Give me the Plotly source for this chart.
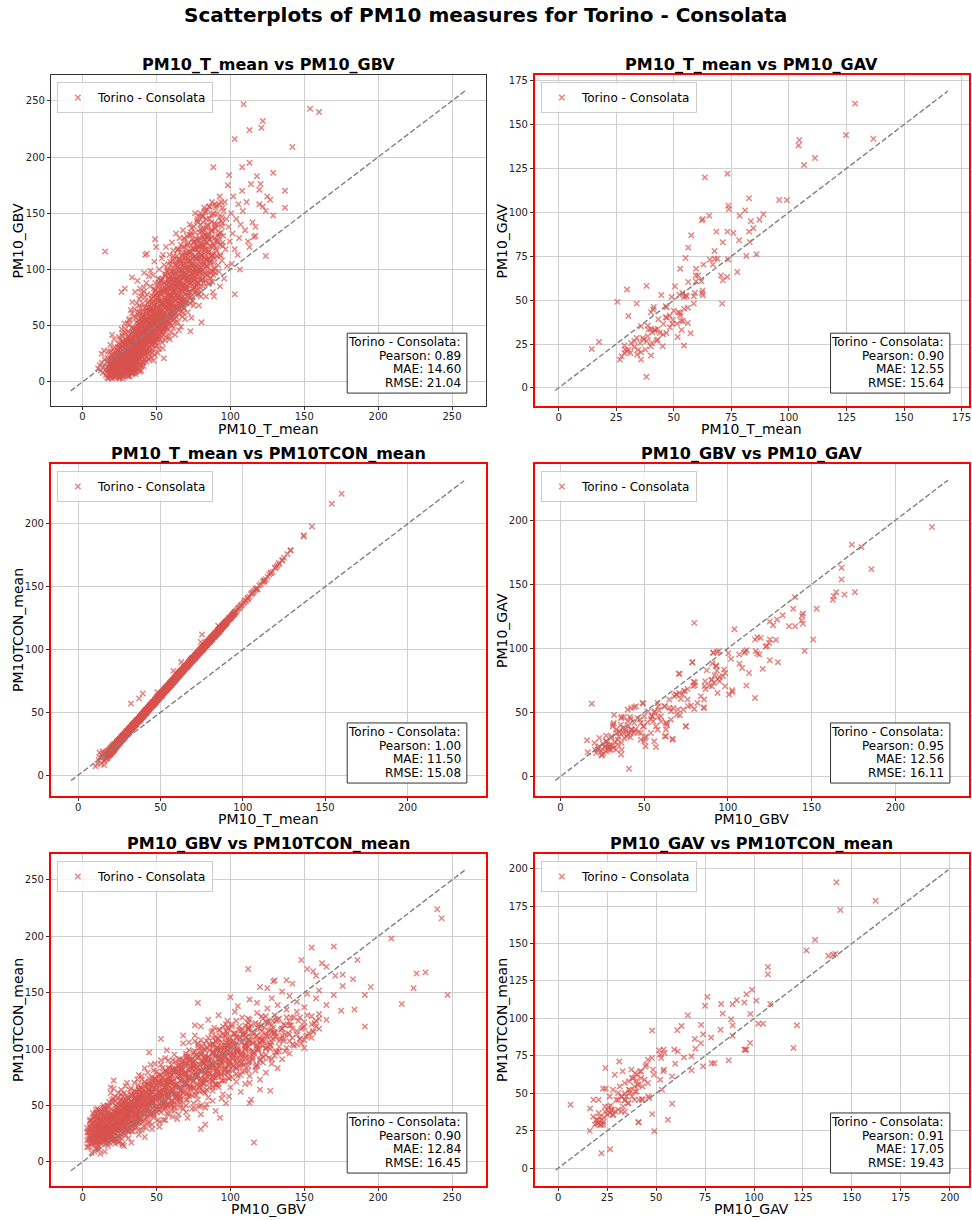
import plotly.graph_objects as go

W, H = 972, 1220
FONT = "DejaVu Sans"
MARKER_COLOR = "rgba(217,83,79,0.7)"
STATION = "Torino - Consolata"

# ---------------- shared daily table (PM10_T_mean, PM10_GBV, PM10TCON_mean) ----------------
T_mean = [
    10.5, 11.7, 12.4, 13.1, 13.8, 14.2, 14.9, 15.3, 15.6, 12.9, 14.5, 15.8,
    16.2, 16.5, 16.8, 17.1, 17.3, 17.6, 17.9, 18.1, 18.3, 18.6, 18.8, 19.0, 19.2, 19.5, 19.7, 19.9, 20.1, 20.3, 20.5, 20.7, 20.9, 21.1, 21.3, 21.5, 21.7, 21.9, 22.1, 22.3, 22.5, 22.7,
    16.9, 17.7, 18.4, 19.3, 20.0, 20.6, 21.4, 22.0, 22.8, 18.9, 19.6, 21.0, 21.8, 17.4, 20.2,
    23.1, 23.3, 23.5, 23.7, 23.9, 24.1, 24.3, 24.5, 24.7, 24.9, 25.1, 25.3, 25.5, 25.7, 25.9, 26.1, 26.3, 26.5, 26.7, 26.9,
    27.1, 27.3, 27.5, 27.7, 27.9, 28.1, 28.3, 28.5, 28.7, 28.9, 29.1, 29.3, 29.5, 29.7, 29.9,
    23.2, 23.8, 24.2, 24.8, 25.2, 25.6, 26.0, 26.4, 26.8, 27.2, 27.6, 28.0, 28.4, 28.8, 29.2, 29.6,
    23.4, 24.0, 24.6, 25.4, 25.8, 26.2, 26.6, 27.0, 27.4, 27.8, 28.2, 28.6, 29.0, 29.4, 29.8,
    24.4, 25.0, 26.9, 28.3, 26.3, 28.6,
    30.1, 30.3, 30.5, 30.7, 30.9, 31.1, 31.3, 31.5, 31.7, 31.9, 32.1, 32.3, 32.5, 32.7, 32.9, 33.1, 33.3, 33.5, 33.7, 33.9,
    34.1, 34.3, 34.5, 34.7, 34.9, 35.1, 35.3, 35.5, 35.7, 35.9, 36.1, 36.3,
    30.2, 30.6, 31.0, 31.4, 31.8, 32.2, 32.6, 33.0, 33.4, 33.8, 34.2, 34.6, 35.0, 35.4, 35.8, 36.2,
    30.4, 30.8, 31.2, 31.6, 32.0, 32.4, 32.8, 33.2, 33.6, 34.0, 34.4, 34.8, 35.2, 35.6, 36.0, 36.4,
    31.0, 32.0, 33.0, 34.0, 35.0, 36.0, 33.5, 31.5, 34.5, 35.5, 32.5,
    36.6, 36.8, 37.0, 37.2, 37.4, 37.6, 37.8, 38.0, 38.2, 38.4, 38.6, 38.8, 39.0, 39.2, 39.4, 39.6, 39.8, 40.0, 40.2, 40.4,
    40.6, 40.8, 41.0, 41.2, 41.4, 41.6, 41.8, 42.0, 42.2, 42.4, 42.6, 42.8,
    36.7, 37.1, 37.5, 37.9, 38.3, 38.7, 39.1, 39.5, 39.9, 40.3, 40.7, 41.1, 41.5, 41.9, 42.3, 42.7,
    36.9, 37.3, 37.7, 38.1, 38.5, 38.9, 39.3, 39.7, 40.1, 40.5, 40.9, 41.3, 41.7, 42.1, 42.5, 42.9,
    38.0, 39.0, 40.0, 41.0, 42.0, 43.0, 37.0, 39.5, 41.5, 40.5, 38.5,
    43.1, 43.3, 43.5, 43.7, 43.9, 44.1, 44.3, 44.5, 44.7, 44.9, 45.1, 45.3, 45.5, 45.7, 45.9, 46.1, 46.3, 46.5, 46.7, 46.9,
    47.1, 47.3, 47.5, 47.7, 47.9, 48.1, 48.3, 48.5, 48.7, 48.9, 49.1, 49.3, 49.5, 49.7, 49.9,
    43.2, 43.6, 44.0, 44.4, 44.8, 45.2, 45.6, 46.0, 46.4, 46.8, 47.2, 47.6, 48.0, 48.4, 48.8, 49.2, 49.6,
    43.8, 44.6, 45.4, 46.2, 47.0, 47.8, 48.6, 49.4, 44.2, 45.8, 47.4, 49.0, 46.6, 48.2, 45.0, 43.4, 49.8, 47.7,
    50.2, 50.4, 50.6, 50.8, 51.0, 51.2, 51.4, 51.6, 51.8, 52.0, 52.2, 52.4, 52.6, 52.8, 53.0, 53.2, 53.4, 53.6, 53.8, 54.0,
    54.2, 54.4, 54.6, 54.8, 55.0, 55.2, 55.4, 55.6, 55.8, 56.0, 56.2, 56.4, 56.6, 56.8,
    50.3, 50.9, 51.5, 52.1, 52.7, 53.3, 53.9, 54.5, 55.1, 55.7, 56.3, 56.9,
    50.7, 51.9, 53.1, 54.3, 55.5, 56.5, 51.3, 52.5, 53.7, 54.9, 56.1, 50.0, 52.9, 55.9,
    57.1, 57.3, 57.5, 57.7, 57.9, 58.1, 58.3, 58.5, 58.7, 58.9, 59.1, 59.3, 59.5, 59.7, 59.9, 60.1, 60.3, 60.5, 60.7, 60.9,
    61.1, 61.3, 61.5, 61.7, 61.9, 62.1, 62.3, 62.5, 62.7, 62.9, 63.1, 63.3,
    57.4, 57.8, 58.2, 58.6, 59.0, 59.4, 59.8, 60.2, 60.6, 61.0, 61.4, 61.8, 62.2, 62.6, 63.0, 63.4, 58.8, 60.4,
    63.6, 63.8, 64.0, 64.2, 64.4, 64.6, 64.8, 65.0, 65.2, 65.4, 65.6, 65.8, 66.0, 66.2, 66.4, 66.6, 66.8, 67.0, 67.2, 67.4,
    67.6, 67.8, 68.0, 68.2, 68.4, 68.6, 68.8, 69.0, 69.2, 69.4, 69.6, 69.8,
    64.1, 64.9, 65.7, 66.5, 67.3, 68.1, 68.9, 69.7, 65.3, 67.9,
    70.2, 70.4, 70.6, 70.8, 71.0, 71.3, 71.6, 71.9, 72.2, 72.5, 72.8, 73.1, 73.4, 73.7, 74.0, 74.3, 74.6, 74.9, 75.2, 75.5,
    75.8, 76.1, 76.4, 76.7, 73.0, 70.5, 71.5, 72.0, 72.7, 73.5, 74.5, 75.0, 75.9, 76.5, 76.9,
    77.2, 77.5, 77.8, 78.1, 78.4, 78.7, 79.0, 79.3, 79.6, 79.9, 80.2, 80.5, 80.8, 81.1, 81.4, 81.7, 82.0, 82.3, 82.6, 82.9,
    83.2, 83.5, 83.8, 78.0, 79.5, 80.0, 81.0, 82.5, 83.0, 80.7,
    84.2, 84.6, 85.0, 85.4, 85.8, 86.2, 86.6, 87.0, 87.4, 87.8, 88.2, 88.5, 88.9, 89.3, 89.7, 90.1, 89.0, 84.9, 86.0, 87.6, 88.6, 90.3,
    90.8, 91.3, 91.8, 92.3, 92.8, 93.3, 93.8, 94.3, 94.8, 95.3, 95.8, 96.3, 96.8, 97.3, 97.8, 98.3, 98.8, 99.2, 99.6, 93.0,
    109, 154, 160, 122, 121, 113, 103, 142, 108, 113, 129, 118, 120.5, 114, 137, 108, 119.6, 125, 127, 119.6,
    122, 124, 137, 129, 115, 117, 117, 116, 113, 124, 103, 105, 100.5, 101.5, 102, 103, 104, 105.5, 106, 107,
    108.5, 110, 111, 112, 101, 106.5,
    18.05, 18.25, 18.45, 18.65, 18.85, 19.05, 19.25, 19.45, 19.65, 19.85, 20.05, 20.25, 20.45, 20.65, 20.85, 21.05, 21.25, 21.45, 21.65, 21.85,
    22.05, 22.25, 22.45, 22.65, 22.85, 23.05, 23.25, 23.45, 23.65, 23.85, 24.05, 24.25, 24.45, 24.65, 24.85, 25.05, 25.25, 25.45, 25.65, 25.85,
    26.05, 26.25, 26.45, 26.65, 26.85, 27.05, 27.25, 27.45, 27.65, 27.85, 28.05, 28.25, 28.45, 28.65, 28.85, 29.05, 29.25, 29.45, 29.65, 29.85,
    30.05, 30.25, 30.45, 30.65, 30.85, 31.05, 31.25, 31.45, 31.65, 31.85, 32.05, 32.25, 32.45, 32.65, 32.85, 33.05, 33.25, 33.45, 33.65, 33.85,
    34.05, 34.25, 34.45, 34.65, 34.85, 35.05, 35.25, 35.45, 35.65, 35.85, 36.05, 36.25, 36.45, 36.65, 36.85, 37.05, 37.25, 37.45, 37.65, 37.85,
    38.05, 38.25, 38.45, 38.65, 38.85, 39.05, 39.25, 39.45, 39.65, 39.85, 40.05, 40.25, 40.45, 40.65, 40.85, 41.05, 41.25, 41.45, 41.65, 41.85,
    42.05, 42.25, 42.45, 42.65, 42.85, 43.05, 43.25, 43.45, 43.65, 43.85, 44.05, 44.25, 44.45, 44.65, 44.85, 45.05, 45.25, 45.45, 45.65, 45.85,
    46.05, 46.25, 46.45, 46.65, 46.85, 47.05, 47.25, 47.45, 47.65, 47.85, 48.05, 48.25, 48.45, 48.65, 48.85, 49.05, 49.25, 49.45, 49.65, 49.85,
    50.05, 50.25, 50.45, 50.65, 50.85, 51.05, 51.25, 51.45, 51.65, 51.85, 52.05, 52.25, 52.45, 52.65, 52.85, 53.05, 53.25, 53.45, 53.65, 53.85,
    54.05, 54.25, 54.45, 54.65, 54.85, 55.05, 55.25, 55.45, 55.65, 55.85, 56.05, 56.25, 56.45, 56.65, 56.85, 57.05, 57.25, 57.45, 57.65, 57.85,
    58.05, 58.25, 58.45, 58.65, 58.85, 59.05, 59.25, 59.45, 59.65, 59.85, 60.05, 60.25, 60.45, 60.65, 60.85, 61.05, 61.25, 61.45, 61.65, 61.85,
    62.05, 62.25, 62.45, 62.65, 62.85, 63.05, 63.25, 63.45, 63.65, 63.85, 64.05, 64.25, 64.45, 64.65, 64.85, 65.05, 65.25, 65.45, 65.65, 65.85,
    66.05, 66.25, 66.45, 66.65, 66.85, 67.05, 67.25, 67.45, 67.65, 67.85, 68.05, 68.25, 68.45, 68.65, 68.85, 69.05, 69.25, 69.45, 69.65, 69.85,
    70.1, 70.35, 70.6, 70.85, 71.1, 71.35, 71.6, 71.85, 72.1, 72.35, 72.6, 72.85, 73.1, 73.35, 73.6, 73.85, 74.1, 74.35, 74.6, 74.85,
    75.1, 75.35, 75.6, 75.85, 76.1, 76.35, 76.6, 76.85, 77.1, 77.35, 77.6, 77.85, 78.1, 78.35, 78.6, 78.85, 79.1, 79.35, 79.6, 79.85,
    80.15, 80.45, 80.75, 81.05, 81.35, 81.65, 81.95, 82.25, 82.55, 82.85, 83.15, 83.45, 83.75, 84.05, 84.35, 84.65, 84.95, 85.25, 85.55, 85.85,
    86.3, 86.8, 87.3, 87.8, 88.3, 88.8, 89.3, 89.8, 90.3, 90.8, 91.3, 91.8, 92.3, 92.8, 93.3, 93.8, 94.3, 94.8, 86.5, 88.0,
    25.15, 26.35, 27.55, 28.75, 29.95, 31.15, 32.35, 33.55, 34.75, 35.95, 37.15, 38.35, 39.55, 40.75, 24.55, 27.05, 29.45, 31.85, 34.25, 36.65,
    20.15, 20.4, 20.65, 20.9, 21.15, 21.4, 21.65, 21.9, 22.15, 22.4, 22.65, 22.9, 23.15, 23.4, 23.65, 23.9, 24.15, 24.4, 24.65, 24.9,
    25.15, 25.4, 25.65, 25.9, 26.15, 26.4, 26.65, 26.9, 27.15, 27.4, 27.65, 27.9, 28.15, 28.4, 28.65, 28.9, 29.15, 29.4, 29.65, 29.9,
    30.15, 30.4, 30.65, 30.9, 31.15, 31.4, 31.65, 31.9, 32.15, 32.4, 32.65, 32.9, 33.15, 33.4, 33.65, 33.9, 34.15, 34.4, 34.65, 34.9,
    35.15, 35.4, 35.65, 35.9, 36.15, 36.4, 36.65, 36.9, 37.15, 37.4, 37.65, 37.9, 38.15, 38.4, 38.65, 38.9, 39.15, 39.4, 39.65, 39.9,
    40.15, 40.4, 40.65, 40.9, 41.15, 41.4, 41.65, 41.9, 42.15, 42.4, 42.65, 42.9, 43.15, 43.4, 43.65, 43.9, 44.15, 44.4, 44.65, 44.9,
    45.15, 45.4, 45.65, 45.9, 46.15, 46.4, 46.65, 46.9, 47.15, 47.4, 47.65, 47.9, 48.15, 48.4, 48.65, 48.9, 49.15, 49.4, 49.65, 49.9,
    50.15, 50.4, 50.65, 50.9, 51.15, 51.4, 51.65, 51.9, 52.15, 52.4, 52.65, 52.9, 53.15, 53.4, 53.65, 53.9, 54.15, 54.4, 54.65, 54.9,
    55.15, 55.4, 55.65, 55.9, 56.15, 56.4, 56.65, 56.9, 57.15, 57.4, 57.65, 57.9, 58.15, 58.4, 58.65, 58.9, 59.15, 59.4, 59.65, 59.9,
    60.15, 60.4, 60.65, 60.9, 61.15, 61.4, 61.65, 61.9, 62.15, 62.4, 62.65, 62.9, 63.15, 63.4, 63.65, 63.9, 64.15, 64.4, 64.65, 64.9,
    65.15, 65.4, 65.65, 65.9, 66.15, 66.4, 66.65, 66.9, 67.15, 67.4, 67.65, 67.9, 68.15, 68.4, 68.65, 68.9, 69.15, 69.4, 69.65, 69.9,
    70.2, 70.5, 70.8, 71.1, 71.4, 71.7, 72.0, 72.3, 72.6, 72.9, 73.2, 73.5, 73.8, 74.1, 74.4, 74.7, 75.0, 75.3, 75.6, 75.9,
    76.2, 76.5, 76.8, 77.1, 77.4, 77.7, 78.0, 78.3, 78.6, 78.9, 79.2, 79.5, 79.8, 80.1, 80.4, 80.7, 81.0, 81.3, 81.6, 81.9,
    82.3, 82.7, 83.1, 83.5, 83.9, 84.3, 84.7, 85.1, 85.5, 85.9, 86.3, 86.7, 87.1, 87.5, 87.9, 88.3, 88.7, 89.1, 89.5, 89.9,
    70.3, 70.7, 71.2, 71.8, 72.3, 72.9, 73.4, 73.9, 74.4, 74.9, 75.4, 75.9, 76.3, 76.8, 77.3, 77.8, 71.0, 73.0, 75.0, 77.0,
    78.3, 78.8, 79.3, 79.8, 80.3, 80.8, 81.3, 81.8, 82.3, 82.8, 83.3, 83.8, 84.3, 84.8, 85.3, 85.8, 79.0, 81.0, 83.0, 85.0,
    86.4, 87.0, 87.6, 88.2, 88.8, 89.4, 90.0, 90.6, 91.2, 91.8, 92.4, 93.0, 93.6, 94.2, 94.8, 95.4, 87.3, 89.7, 92.1, 94.5,
    55.3, 56.1, 56.9, 57.7, 58.5, 59.3, 60.1, 60.9, 61.7, 62.5, 63.3, 64.1, 64.9, 65.7, 66.5, 67.3, 68.1, 68.9, 69.7, 58.0,
    40.35, 41.15, 41.95, 42.75, 43.55, 44.35, 45.15, 45.95, 46.75, 47.55, 48.35, 49.15, 49.95, 50.75, 51.55, 52.35, 53.15, 53.95, 54.75, 47.0,
    25.6, 27.2, 28.8, 30.4, 32.0, 33.6, 35.2, 36.8, 38.4, 40.0, 41.6, 43.2, 44.8, 29.6, 33.2, 36.2, 39.2, 42.2, 31.2, 37.6,
]
GBV = [
    12, 15, 10, 17, 8, 13, 20, 116, 11, 25, 28, 6,
    9, 18, 4, 13, 27, 7, 15, 22, 10, 5, 33, 17, 12, 8, 24, 14, 3, 19, 11, 29, 7, 16, 38, 13, 21, 9, 5, 26, 15, 11,
    21, 11, 16, 6, 42, 23, 4, 18, 8, 27, 20, 10, 31, 3, 14,
    12, 24, 6, 17, 31, 9, 20, 14, 40, 4, 26, 11, 18, 33, 7, 22, 15, 47, 10, 28,
    19, 5, 36, 13, 24, 17, 9, 30, 21, 44, 12, 26, 16, 7, 34,
    19, 8, 28, 16, 3, 23, 13, 36, 18, 9, 27, 14, 52, 11, 20, 38,
    14, 22, 11, 30, 15, 8, 25, 41, 16, 6, 22, 13, 29, 10, 24,
    34, 19, 12, 33, 80, 83,
    18, 9, 27, 40, 14, 22, 6, 33, 19, 51, 12, 25, 16, 37, 8, 29, 21, 93, 14, 44,
    24, 10, 31, 18, 58, 27, 13, 36, 21, 7, 42, 30,
    31, 12, 45, 16, 28, 20, 64, 11, 34, 26, 17, 48, 20, 9, 31, 15,
    23, 5, 37, 10, 24, 42, 19, 15, 71, 30, 22, 12, 39, 25, 17, 53,
    26, 14, 39, 8, 46, 23, 20, 55, 35, 80, 31,
    28, 45, 19, 90, 34, 12, 52, 25, 39, 16, 62, 30, 44, 21, 35, 10, 57, 27, 48, 18,
    38, 70, 31, 14, 43, 24, 55, 35, 20, 113, 47, 29,
    37, 24, 60, 33, 47, 9, 28, 76, 41, 23, 54, 17, 36, 66, 27, 41,
    15, 50, 42, 18, 33, 83, 50, 31, 15, 62, 45, 26, 97, 52, 37, 22,
    55, 38, 33, 58, 44, 18, 31, 24, 80, 29, 68,
    33, 56, 114, 25, 44, 70, 38, 20, 51, 31, 63, 42, 27, 85, 48, 36, 58, 22, 45, 74,
    33, 53, 40, 95, 28, 61, 47, 36, 68, 24, 127, 52, 41, 79, 32,
    47, 29, 60, 41, 26, 53, 37, 99, 50, 30, 64, 44, 19, 56, 38, 88, 47,
    78, 35, 47, 66, 26, 51, 107, 35, 55, 39, 72, 58, 41, 83, 21, 64, 120, 62,
    45, 66, 33, 84, 55, 40, 73, 60, 29, 100, 50, 68, 38, 79, 57, 44, 90, 63, 35, 71,
    52, 113, 42, 82, 21, 60, 48, 75, 37, 96, 56, 67, 45, 86,
    56, 26, 48, 62, 91, 70, 47, 61, 104, 53, 40, 72,
    75, 39, 82, 30, 66, 120, 92, 54, 110, 58, 79, 38, 44, 49,
    58, 83, 47, 99, 66, 74, 40, 89, 61, 113, 70, 52, 94, 78, 44, 86, 64, 124, 72, 55,
    101, 80, 48, 90, 68, 110, 59, 84, 42, 96, 73, 132,
    71, 54, 105, 76, 38, 84, 62, 98, 50, 77, 117, 63, 91, 53, 81, 106, 92, 69,
    88, 65, 102, 75, 53, 118, 84, 70, 95, 60, 128, 79, 108, 67, 90, 49, 99, 82, 72, 113,
    58, 93, 135, 76, 104, 66, 87, 120, 79, 56, 97, 70,
    92, 109, 87, 74, 100, 61, 94, 111, 46, 83,
    85, 104, 70, 122, 93, 62, 110, 80, 98, 140, 75, 115, 88, 57, 105, 127, 83, 96, 68, 118,
    101, 150, 86, 110, 45, 130, 91, 116, 102, 133, 72, 90, 125, 97, 78,
    96, 120, 82, 142, 107, 68, 128, 99, 113, 150, 90, 53, 122, 104, 136, 85, 117, 155, 97, 130,
    110, 76, 145, 88, 133, 76, 147, 125, 93, 112,
    103, 140, 118, 88, 156, 127, 97, 148, 112, 135, 80, 191, 121, 158, 101, 140, 76, 130, 108, 160, 95, 125,
    112, 150, 131, 98, 165, 122, 143, 108, 155, 130, 92, 160, 118, 145, 103, 175, 138, 184, 125, 85,
    247, 243, 240, 232, 226, 224, 216, 209, 191, 195, 186, 183, 176, 176, 170, 170, 171, 165, 162, 158,
    156, 152, 155, 148, 142, 138, 130, 129, 120, 112, 78, 113, 150, 132, 165, 118, 145, 158, 128, 140,
    152, 135, 160, 125, 105, 100,
    6, 12, 9, 16, 4, 11, 19, 7, 14, 10, 22, 6, 13, 17, 8, 12, 25, 9, 15, 5,
    14, 8, 20, 11, 5, 17, 9, 13, 27, 7, 16, 10, 21, 12, 6, 18, 14, 29, 9, 23,
    15, 24, 10, 19, 32, 13, 21, 8, 17, 27, 11, 23, 16, 35, 20, 14, 30, 18, 9, 25,
    21, 15, 29, 11, 25, 34, 18, 22, 13, 30, 26, 17, 38, 21, 12, 28, 24, 16, 33, 19,
    27, 20, 36, 15, 31, 24, 42, 19, 29, 35, 22, 46, 27, 17, 33, 39, 25, 30, 21, 44,
    36, 28, 49, 23, 40, 32, 56, 27, 43, 35, 22, 51, 38, 30, 45, 60, 33, 41, 26, 48,
    40, 31, 55, 46, 28, 62, 37, 50, 43, 34, 58, 47, 39, 66, 30, 52, 44, 72, 36, 57,
    48, 39, 63, 54, 33, 70, 45, 57, 41, 76, 52, 36, 65, 48, 59, 43, 81, 55, 38, 67,
    55, 44, 71, 61, 38, 79, 50, 66, 47, 86, 58, 42, 74, 63, 52, 90, 45, 69, 57, 82,
    64, 51, 80, 70, 45, 88, 57, 75, 62, 94, 68, 49, 83, 72, 59, 99, 54, 77, 66, 90,
    72, 59, 88, 78, 53, 96, 65, 83, 70, 104, 76, 57, 91, 80, 67, 108, 62, 85, 74, 99,
    80, 67, 97, 86, 61, 104, 73, 91, 78, 112, 84, 65, 99, 88, 75, 118, 70, 93, 82, 107,
    88, 75, 105, 94, 69, 112, 81, 99, 86, 120, 92, 73, 107, 96, 83, 126, 78, 101, 90, 115,
    96, 83, 113, 102, 76, 121, 89, 107, 94, 131, 100, 80, 116, 105, 91, 137, 86, 110, 98, 124,
    105, 91, 124, 112, 84, 133, 98, 118, 103, 143, 110, 88, 127, 115, 100, 148, 94, 121, 108, 136,
    113, 99, 134, 121, 92, 142, 106, 127, 111, 151, 118, 96, 137, 124, 108, 153, 102, 130, 116, 145,
    121, 106, 142, 129, 98, 150, 114, 136, 119, 157, 126, 104, 146, 132, 112, 160, 138, 124, 92, 113,
    4, 7, 5, 9, 6, 8, 10, 7, 11, 9, 13, 11, 14, 17, 8, 3, 10, 5, 8, 12,
    10, 15, 7, 20, 12, 9, 17, 13, 24, 8, 15, 19, 11, 26, 14, 9, 21, 16, 12, 31,
    18, 12, 26, 21, 15, 30, 19, 24, 11, 28, 22, 17, 34, 25, 14, 29, 20, 37, 23, 16,
    26, 19, 33, 28, 22, 39, 25, 31, 17, 36, 29, 23, 43, 32, 20, 38, 27, 47, 30, 24,
    33, 25, 41, 36, 28, 48, 31, 39, 22, 45, 35, 27, 52, 38, 24, 44, 32, 56, 36, 29,
    40, 31, 50, 43, 34, 57, 37, 47, 28, 54, 42, 33, 61, 45, 30, 52, 39, 66, 44, 35,
    47, 38, 58, 51, 41, 66, 44, 55, 35, 63, 49, 40, 71, 53, 37, 61, 46, 77, 52, 42,
    54, 45, 67, 58, 48, 75, 51, 63, 42, 72, 56, 47, 80, 61, 44, 69, 53, 86, 59, 49,
    61, 52, 75, 66, 55, 83, 58, 71, 49, 80, 64, 54, 88, 69, 51, 77, 60, 94, 67, 57,
    69, 59, 83, 74, 62, 91, 65, 79, 56, 88, 72, 61, 96, 77, 58, 85, 67, 102, 75, 64,
    77, 66, 91, 82, 69, 99, 72, 87, 63, 96, 80, 68, 104, 85, 65, 93, 74, 110, 83, 71,
    85, 73, 100, 90, 77, 108, 80, 95, 70, 105, 88, 76, 113, 93, 72, 102, 82, 119, 91, 79,
    94, 81, 110, 99, 86, 118, 89, 104, 78, 115, 97, 84, 123, 102, 80, 112, 91, 129, 100, 88,
    104, 90, 121, 109, 95, 130, 98, 115, 87, 126, 107, 93, 135, 112, 89, 123, 101, 141, 110, 97,
    92, 115, 101, 124, 88, 108, 131, 97, 119, 104, 138, 93, 112, 127, 99, 145, 83, 96, 110, 122,
    102, 126, 111, 140, 97, 118, 147, 107, 131, 114, 152, 103, 124, 139, 110, 156, 92, 120, 135, 128,
    112, 134, 120, 149, 106, 128, 155, 117, 140, 124, 158, 113, 133, 147, 121, 152, 99, 137, 129, 141,
    88, 95, 82, 101, 91, 107, 86, 98, 112, 94, 104, 117, 99, 109, 122, 103, 115, 128, 108, 85,
    53, 60, 47, 66, 56, 71, 52, 63, 77, 58, 68, 82, 61, 73, 88, 65, 78, 92, 70, 33,
    38, 43, 47, 52, 56, 61, 65, 70, 74, 79, 84, 88, 94, 35, 48, 57, 66, 75, 41, 62,
]
TCON = [
    7, 9, 12, 14, 9, 16, 19, 17, 11, 18, 14, 8,
    12, 17, 13, 18, 15, 14, 19, 16, 15, 20, 17, 16, 21, 18, 17, 22, 19, 21, 18, 23, 20, 19, 24, 21, 20, 25, 22, 21, 24, 22,
    18, 14, 19, 17, 22, 19, 20, 24, 22, 16, 20, 23, 21, 13, 18,
    25, 23, 26, 24, 27, 25, 27, 25, 28, 26, 28, 27, 29, 27, 29, 28, 30, 29, 31, 29,
    31, 30, 32, 31, 30, 32, 31, 33, 32, 34, 33, 34, 33, 35, 34,
    23, 26, 25, 28, 26, 29, 28, 30, 29, 31, 30, 32, 31, 33, 32, 35,
    26, 24, 27, 28, 27, 30, 28, 31, 29, 32, 31, 33, 32, 34, 33,
    27, 26, 30, 31, 29, 33,
    35, 33, 36, 35, 37, 35, 37, 36, 38, 37, 38, 37, 39, 38, 40, 38, 40, 39, 41, 40,
    41, 40, 42, 41, 42, 41, 43, 42, 44, 43, 44, 43,
    34, 36, 35, 37, 36, 38, 38, 39, 39, 41, 40, 42, 41, 43, 42, 44,
    35, 36, 36, 37, 57, 38, 39, 40, 39, 41, 41, 42, 42, 43, 43, 44,
    36, 37, 39, 41, 42, 44, 40, 37, 41, 42, 38,
    44, 43, 61, 45, 46, 44, 46, 45, 47, 46, 48, 47, 48, 65, 49, 47, 49, 48, 50, 49,
    51, 50, 51, 50, 52, 51, 52, 51, 53, 52, 54, 53,
    43, 45, 46, 45, 47, 46, 48, 47, 50, 49, 50, 49, 52, 51, 53, 52,
    45, 44, 46, 45, 47, 48, 47, 49, 48, 50, 51, 50, 52, 51, 53, 54,
    47, 46, 49, 51, 52, 53, 45, 48, 50, 49, 47,
    54, 53, 55, 54, 56, 55, 56, 55, 57, 56, 57, 56, 58, 57, 58, 57, 59, 58, 60, 59,
    60, 59, 61, 60, 61, 60, 62, 61, 62, 61, 63, 62, 64, 63, 64,
    53, 55, 54, 56, 55, 57, 56, 58, 57, 59, 58, 61, 66, 62, 61, 63, 62,
    55, 56, 57, 58, 60, 61, 62, 63, 55, 58, 60, 62, 59, 61, 56, 54, 64, 60,
    64, 63, 65, 64, 66, 65, 66, 65, 67, 66, 68, 67, 68, 67, 69, 68, 69, 68, 70, 69,
    71, 70, 71, 70, 72, 71, 72, 71, 73, 72, 73, 72, 74, 73,
    65, 64, 66, 67, 68, 69, 70, 71, 71, 72, 73, 74,
    65, 66, 69, 70, 72, 73, 66, 68, 69, 71, 72, 64, 68, 73,
    74, 73, 75, 74, 76, 75, 76, 75, 77, 76, 78, 77, 78, 77, 79, 78, 80, 79, 80, 79,
    81, 80, 81, 80, 82, 81, 83, 82, 83, 82, 84, 83,
    75, 83, 76, 77, 77, 78, 79, 79, 80, 80, 81, 82, 82, 90, 83, 84, 77, 79,
    84, 83, 85, 84, 86, 85, 86, 85, 87, 86, 87, 86, 88, 87, 88, 87, 89, 88, 90, 89,
    90, 89, 91, 90, 92, 91, 92, 91, 93, 92, 93, 92,
    85, 86, 87, 88, 89, 90, 92, 93, 86, 90,
    93, 94, 94, 93, 95, 95, 96, 95, 97, 96, 97, 98, 98, 99, 99, 100, 99, 101, 112, 100,
    102, 101, 103, 102, 97, 94, 95, 96, 97, 98, 106, 100, 102, 103, 103,
    103, 104, 105, 104, 106, 105, 106, 107, 106, 108, 107, 109, 108, 110, 109, 110, 111, 110, 112, 111,
    113, 112, 113, 104, 107, 107, 109, 111, 112, 108,
    114, 113, 119, 116, 115, 117, 116, 118, 119, 118, 120, 120, 121, 120, 122, 121, 121, 115, 117, 118, 120, 123,
    123, 124, 125, 125, 126, 127, 128, 128, 129, 130, 130, 131, 132, 133, 133, 134, 135, 135, 136, 126,
    148, 216, 224, 168, 167, 154, 140, 198, 148, 155, 179, 162, 166, 156, 191, 148, 165, 173, 176, 165,
    169, 171, 190, 179, 158, 161, 161, 160, 155, 171, 141, 144, 137, 139, 139, 141, 142, 145, 145, 147,
    149, 151, 152, 154, 138, 146,
    16, 18, 17, 19, 16, 18, 19, 17, 20, 18, 20, 19, 21, 20, 19, 21, 22, 20, 22, 21,
    22, 23, 23, 24, 23, 25, 24, 25, 26, 25, 26, 26, 27, 26, 27, 28, 27, 28, 29, 28,
    28, 29, 29, 30, 30, 31, 30, 31, 32, 31, 32, 33, 32, 33, 33, 34, 33, 34, 35, 34,
    34, 35, 35, 36, 35, 36, 37, 36, 37, 38, 37, 38, 38, 39, 38, 39, 40, 39, 40, 40,
    40, 41, 40, 41, 42, 41, 42, 43, 42, 43, 44, 43, 44, 44, 45, 44, 45, 46, 45, 46,
    46, 47, 46, 47, 48, 47, 48, 49, 48, 49, 50, 49, 50, 50, 51, 50, 51, 52, 51, 52,
    52, 53, 52, 53, 54, 53, 54, 55, 54, 55, 56, 55, 56, 56, 57, 56, 57, 58, 57, 58,
    57, 58, 59, 58, 59, 60, 59, 60, 61, 60, 61, 62, 61, 62, 63, 62, 63, 63, 64, 63,
    63, 64, 65, 64, 65, 66, 65, 66, 67, 66, 67, 68, 67, 68, 69, 68, 69, 69, 70, 69,
    69, 70, 71, 70, 71, 72, 71, 72, 73, 72, 73, 74, 73, 74, 75, 74, 75, 75, 76, 75,
    75, 76, 77, 76, 77, 78, 77, 78, 79, 78, 79, 80, 79, 80, 81, 80, 81, 81, 82, 81,
    81, 82, 82, 83, 82, 83, 84, 83, 84, 85, 84, 85, 86, 85, 86, 86, 87, 86, 87, 87,
    87, 88, 87, 88, 89, 88, 89, 90, 89, 90, 91, 90, 91, 92, 91, 92, 93, 92, 93, 92,
    93, 94, 93, 95, 94, 95, 96, 95, 96, 97, 97, 98, 97, 98, 99, 98, 99, 100, 99, 100,
    100, 101, 101, 102, 101, 102, 103, 103, 104, 103, 104, 105, 104, 105, 106, 105, 106, 107, 106, 107,
    107, 108, 109, 108, 109, 110, 110, 111, 110, 111, 112, 112, 113, 112, 113, 114, 114, 115, 114, 116,
    116, 117, 118, 119, 119, 120, 121, 122, 122, 123, 124, 125, 125, 126, 127, 127, 128, 129, 117, 119,
    27, 29, 31, 32, 34, 36, 38, 39, 41, 43, 45, 46, 48, 50, 26, 30, 34, 37, 40, 44,
    20, 21, 20, 22, 21, 22, 23, 22, 23, 24, 23, 24, 25, 24, 26, 25, 26, 27, 26, 27,
    27, 28, 28, 29, 28, 29, 30, 29, 30, 31, 31, 32, 31, 32, 33, 32, 33, 34, 34, 34,
    35, 35, 35, 36, 36, 37, 37, 37, 38, 38, 38, 39, 39, 39, 40, 40, 40, 41, 41, 41,
    42, 42, 43, 43, 43, 44, 44, 44, 45, 45, 45, 46, 46, 47, 47, 47, 48, 48, 48, 49,
    49, 50, 50, 50, 51, 51, 51, 52, 52, 52, 53, 53, 54, 54, 54, 55, 55, 55, 56, 56,
    56, 57, 57, 58, 58, 58, 59, 59, 59, 60, 60, 60, 61, 61, 62, 62, 62, 63, 63, 63,
    64, 64, 65, 65, 65, 66, 66, 66, 67, 67, 67, 68, 68, 68, 69, 69, 70, 70, 70, 71,
    71, 71, 72, 72, 72, 73, 73, 74, 74, 74, 75, 75, 75, 76, 76, 76, 77, 77, 78, 78,
    78, 79, 79, 79, 80, 80, 80, 81, 81, 82, 82, 82, 83, 83, 83, 84, 84, 85, 85, 85,
    86, 86, 86, 87, 87, 87, 88, 88, 89, 89, 89, 90, 90, 90, 91, 91, 91, 92, 92, 93,
    93, 93, 94, 94, 95, 95, 96, 96, 96, 97, 97, 98, 98, 99, 99, 100, 100, 100, 101, 101,
    102, 102, 103, 103, 104, 104, 104, 105, 105, 106, 106, 107, 107, 107, 108, 108, 109, 109, 110, 110,
    111, 111, 112, 112, 113, 114, 114, 115, 115, 116, 116, 117, 118, 118, 119, 119, 120, 121, 121, 122,
    93, 94, 95, 95, 96, 97, 98, 98, 99, 100, 101, 101, 102, 103, 103, 104, 94, 97, 100, 103,
    105, 106, 106, 107, 108, 108, 109, 110, 111, 111, 112, 113, 114, 114, 115, 116, 106, 109, 112, 115,
    117, 117, 118, 119, 120, 121, 122, 123, 124, 124, 125, 126, 127, 128, 129, 130, 118, 121, 125, 128,
    71, 72, 74, 75, 76, 77, 78, 79, 81, 82, 83, 84, 85, 86, 88, 89, 90, 91, 92, 75,
    49, 51, 52, 53, 54, 55, 56, 58, 59, 60, 61, 62, 63, 65, 66, 67, 68, 69, 70, 59,
    28, 30, 33, 35, 37, 40, 42, 44, 47, 49, 51, 54, 56, 34, 39, 43, 48, 52, 36, 45,
]

# ---------------- days with PM10_GAV available ----------------
P2_T_mean = [
    128.7, 124.8, 136.7, 104.5, 104.2, 111.3, 106.6, 63.5, 73.3, 82.7, 95.8, 99.1, 73.7, 73.9, 81.0, 88.9, 78.6, 65.4, 62.2, 62.6,
    87.2, 83.5, 84.6, 68.5, 73.3, 75.9, 82.7, 57.6, 78.4, 83.0, 71.3, 56.3, 67.7, 81.5, 85.9, 55.1, 65.7, 69.0, 73.6, 67.0,
    62.9, 52.8, 59.7, 77.6, 71.3, 73.2, 59.5, 56.3, 62.0, 50.5, 29.7, 38.2, 53.7, 59.2, 62.3, 62.6, 44.6, 54.5, 49.1, 55.3,
    58.7, 25.5, 33.9, 71.0, 58.7, 46.9, 41.3, 56.1, 54.5, 52.0, 52.7, 40.1, 30.3, 48.2, 46.5, 43.3, 49.6, 54.0, 35.8, 38.7,
    45.5, 49.4, 51.4, 53.2, 40.1, 41.7, 43.0, 40.8, 43.9, 46.8, 53.4, 48.3, 51.7, 57.3, 38.7, 36.9, 33.9, 32.9, 35.4, 31.5,
    38.2, 42.6, 45.2, 54.4, 17.5, 14.4, 28.6, 29.0, 30.3, 29.7, 31.2, 28.6, 27.4, 26.6, 34.6, 35.8, 34.1, 40.1, 35.8, 38.1,
    32.8, 45.3, 52.8, 56.1, 37.7, 40.5, 62.5, 40.0, 39.0, 41.8, 43.0, 41.1, 46.5, 47.0, 50.0, 52.5, 55.6, 59.6, 60.6, 67.8,
    70.5, 36.5,
]
P2_GAV = [
    161.9, 144.0, 141.9, 141.2, 138.1, 130.9, 126.9, 119.9, 122.0, 108.0, 107.0, 107.0, 103.8, 101.9, 101.1, 98.9, 98.1, 98.1, 95.4, 96.2,
    95.8, 94.9, 90.9, 89.0, 89.0, 88.2, 89.0, 86.9, 84.1, 83.1, 82.9, 79.9, 78.0, 75.1, 76.1, 74.0, 73.1, 73.6, 73.1, 70.2,
    70.2, 67.9, 67.9, 66.0, 61.3, 63.2, 64.1, 60.3, 60.7, 57.9, 56.0, 58.1, 54.1, 54.1, 54.1, 52.8, 52.9, 51.8, 51.8, 52.6,
    52.2, 49.0, 48.0, 48.0, 48.0, 45.9, 46.1, 45.7, 45.0, 43.1, 42.7, 43.1, 41.0, 41.2, 40.2, 39.1, 38.7, 38.1, 35.1, 35.5,
    36.4, 36.6, 36.6, 38.1, 33.6, 32.6, 33.6, 31.7, 31.3, 31.3, 33.0, 34.5, 29.0, 31.1, 29.4, 27.5, 28.5, 26.6, 25.6, 25.6,
    26.6, 26.9, 23.7, 24.1, 26.2, 22.2, 24.1, 21.8, 21.8, 20.9, 19.9, 19.9, 18.0, 16.1, 21.8, 20.3, 19.0, 18.4, 16.1, 6.3,
    23.2, 30.4, 41.2, 37.0, 21.8, 25.6, 55.5, 23.7, 33.2, 33.2, 27.5, 44.6, 46.5, 40.0, 44.0, 53.0, 52.2, 60.7, 64.0, 73.5,
    64.0, 28.5,
]
P4_GBV = [
    221.9, 174.0, 179.8, 167.9, 185.7, 167.9, 164.7, 175.8, 169.6, 163.3, 162.7, 140.0, 153.0, 139.0, 144.8, 144.4, 132.7, 125.0, 129.3, 144.0,
    144.8, 127.0, 136.5, 140.2, 79.9, 103.9, 116.2, 117.6, 119.6, 125.1, 128.7, 151.0, 124.6, 123.2, 122.6, 145.8, 111.2, 109.7, 110.3, 117.6,
    118.8, 116.6, 100.3, 91.2, 94.6, 106.7, 125.0, 129.9, 78.7, 101.9, 106.9, 112.6, 120.8, 108.5, 97.7, 93.4, 98.3, 93.0, 87.4, 71.1,
    86.4, 90.4, 95.0, 95.0, 93.8, 91.8, 89.0, 86.6, 90.4, 98.3, 102.5, 102.7, 111.0, 116.2, 79.5, 80.3, 73.9, 75.9, 68.9, 71.9,
    75.9, 77.9, 79.9, 85.8, 73.3, 71.3, 74.9, 69.5, 66.0, 65.0, 62.0, 58.0, 59.0, 56.0, 55.0, 60.0, 63.0, 63.6, 66.0, 67.0,
    63.0, 58.0, 56.0, 57.0, 50.0, 48.0, 44.0, 45.1, 49.0, 52.4, 50.0, 46.0, 42.0, 38.0, 32.0, 31.8, 36.0, 40.0, 44.0, 48.0,
    52.0, 54.0, 49.7, 45.0, 42.0, 39.0, 35.0, 37.7, 40.5, 43.5, 46.5, 41.7, 38.1, 34.2, 30.2, 27.2, 25.2, 23.2, 26.2, 28.6,
    31.2, 29.8, 27.2, 24.2, 22.2, 21.3, 16.3, 15.9, 18.7, 24.8, 33.2, 36.2, 36.5, 34.2, 40.9, 20.3, 23.2, 27.2, 31.2, 33.2,
    36.2, 40.1, 42.1, 48.0, 51.0, 54.0, 57.0, 60.0, 63.0, 65.0, 68.0, 71.0, 73.0, 83.8, 81.8, 85.8, 93.8, 100.7, 26.6, 28.6,
    29.6, 31.5, 25.6, 24.6, 22.6, 20.6, 27.6, 30.6, 33.5, 36.5, 35.5, 38.5, 40.5, 41.5, 39.5, 42.5, 44.4, 31.5, 36.5, 41.5,
    49.4, 50.4, 50.8, 49.4, 47.4, 54.4, 56.3, 58.3, 55.4, 62.3, 66.9, 58.3, 62.3, 67.3, 63.3, 70.2, 74.8, 69.4, 70.6, 74.2,
    76.2, 79.2, 80.2, 78.8, 85.5, 86.1, 90.1, 92.0, 93.0, 97.0, 91.3, 93.5, 90.7, 27.9, 29.0, 32.5, 34.8, 37.0,
]
P4_GAV = [
    194.8, 181.0, 179.1, 163.0, 161.9, 153.8, 143.9, 143.9, 142.1, 140.8, 137.9, 140.0, 130.9, 130.9, 127.2, 125.4, 125.9, 121.0, 122.6, 121.8,
    119.2, 118.1, 117.3, 117.3, 119.9, 115.0, 106.9, 108.7, 108.2, 106.9, 106.6, 106.9, 104.3, 102.0, 101.2, 98.0, 98.6, 96.5, 97.5, 96.0,
    95.2, 97.8, 96.2, 96.5, 97.8, 95.2, 90.7, 89.2, 89.2, 91.8, 88.1, 80.8, 84.0, 84.7, 83.4, 82.7, 80.8, 86.0, 82.9, 80.1,
    74.3, 75.6, 77.7, 74.3, 76.1, 73.0, 70.9, 68.3, 70.4, 70.4, 67.3, 66.0, 70.9, 61.3, 73.8, 71.2, 67.0, 68.3, 63.9, 60.5,
    60.0, 55.3, 52.7, 53.5, 52.2, 47.7, 39.1, 48.2, 50.8, 53.5, 54.8, 57.4, 51.6, 50.1, 46.9, 46.9, 41.7, 39.9, 44.3, 28.7,
    31.3, 36.5, 27.4, 22.9, 27.4, 28.7, 54.0, 54.8, 57.4, 50.8, 46.9, 45.6, 44.8, 46.4, 48.0, 41.7, 40.4, 43.0, 41.7, 41.7,
    42.2, 44.8, 39.1, 37.0, 36.5, 35.2, 35.2, 33.9, 32.6, 33.9, 34.4, 30.5, 30.0, 28.7, 30.0, 27.4, 25.6, 23.5, 22.9, 22.2,
    24.0, 20.9, 19.6, 19.6, 20.9, 18.3, 18.8, 28.2, 56.8, 17.0, 20.9, 17.0, 20.9, 24.8, 6.0, 26.1, 30.0, 31.8, 39.1, 36.5,
    45.6, 52.2, 53.5, 33.9, 31.3, 33.9, 39.1, 43.0, 36.5, 60.0, 62.6, 65.2, 63.9, 62.6, 57.4, 60.0, 65.2, 63.9, 23.5, 20.9,
    24.8, 22.2, 18.3, 16.4, 22.2, 20.9, 27.4, 31.3, 33.9, 26.1, 33.9, 36.6, 39.2, 33.9, 31.3, 36.6, 35.2, 40.5, 46.5, 46.5,
    56.9, 29.8, 23.5, 39.2, 44.4, 47.0, 50.9, 54.8, 43.1, 31.3, 29.5, 46.5, 54.8, 53.5, 41.8, 52.2, 39.2, 64.0, 80.2, 66.6,
    54.8, 70.5, 73.6, 89.0, 53.8, 70.5, 75.2, 79.1, 86.7, 78.3, 96.6, 97.1, 88.3, 25.2, 23.0, 27.0, 31.0, 38.0,
]
P6_GAV = [
    142.1, 144.1, 162.1, 131.2, 126.8, 138.0, 140.4, 141.6, 107.1, 107.1, 108.3, 99.0, 96.1, 95.1, 101.2, 91.2, 89.0, 83.2, 76.2, 75.0,
    66.2, 84.0, 98.1, 102.2, 104.6, 121.9, 88.3, 89.1, 73.0, 63.0, 60.8, 48.0, 82.9, 89.0, 74.0, 78.1, 69.8, 98.0, 120.2, 95.1,
    96.0, 70.1, 51.6, 53.8, 54.3, 52.1, 52.6, 59.3, 61.1, 64.2, 68.1, 87.1, 79.8, 74.0, 68.1, 58.2, 59.8, 47.9, 45.8, 45.0,
    42.4, 40.4, 37.4, 32.9, 37.7, 36.2, 40.0, 42.4, 44.1, 45.8, 31.2, 24.1, 28.9, 34.0, 31.4, 30.6, 32.3, 34.8, 36.5, 39.0,
    40.7, 40.0, 35.7, 34.0, 33.1, 26.3, 22.9, 20.7, 23.8, 26.8, 27.2, 25.5, 29.2, 28.0, 25.1, 23.3, 18.0, 16.3, 6.3, 20.7,
    19.5, 22.4, 20.4, 22.9, 21.6, 18.7, 16.1, 22.1, 26.5, 41.3, 42.8, 46.5, 48.0, 49.1, 41.1, 56.0, 58.2, 53.0, 52.1, 53.7,
    54.0, 48.9, 48.4, 39.0, 36.0, 43.1, 28.0, 29.7, 37.7, 24.3, 30.6, 32.3, 78.4, 95.7, 25.6, 27.3, 26.4, 28.1, 23.9, 21.3,
    19.6, 21.8, 23.0, 20.4, 17.9, 30.7, 32.4, 34.1, 34.1, 36.6, 38.3, 39.2, 41.7, 44.6, 40.9, 39.2, 42.9, 46.0, 35.8, 34.1, 40.9, 72.9,
]
P6_TCON = [
    190.9, 172.4, 178.6, 152.5, 145.4, 141.8, 142.5, 143.1, 134.4, 129.5, 109.7, 119.1, 116.2, 110.6, 111.9, 112.2, 109.5, 109.7, 114.4, 108.4,
    102.1, 103.2, 103.0, 96.5, 96.5, 95.4, 99.4, 95.4, 95.7, 95.0, 92.1, 91.9, 92.5, 88.5, 89.4, 87.2, 86.3, 83.6, 80.3, 79.2,
    79.2, 79.8, 78.7, 79.2, 76.9, 75.8, 73.6, 79.2, 78.0, 74.0, 74.7, 72.0, 70.0, 68.0, 65.3, 61.3, 69.8, 73.6, 72.5, 69.1,
    64.7, 62.4, 65.8, 64.7, 60.2, 58.0, 58.6, 60.2, 59.1, 56.9, 71.3, 66.9, 62.4, 56.9, 54.6, 50.2, 47.9, 47.9, 50.2, 54.6,
    55.7, 51.3, 43.5, 45.3, 41.2, 47.9, 53.1, 45.7, 41.2, 41.7, 39.0, 38.4, 37.9, 35.7, 35.7, 34.1, 45.7, 39.9, 42.4, 36.8,
    32.3, 31.9, 30.1, 29.0, 29.0, 29.0, 25.0, 10.0, 12.7, 45.7, 46.2, 46.8, 36.1, 24.7, 30.8, 32.3, 43.0, 52.4, 59.1, 64.7,
    65.8, 62.4, 65.8, 45.7, 52.4, 54.6, 52.4, 45.7, 47.9, 53.1, 39.0, 37.9, 70.0, 79.0, 41.0, 38.8, 36.6, 35.5, 37.7, 34.4,
    29.9, 28.8, 30.6, 32.1, 34.4, 45.5, 47.8, 50.0, 45.5, 52.2, 60.0, 63.4, 64.5, 67.9, 55.6, 51.1, 45.5, 47.8, 43.3, 37.7, 30.6, 83.5,
]

# ---------------- per-panel texts and statistics ----------------
panel_titles = ["PM10_T_mean vs PM10_GBV", "PM10_T_mean vs PM10_GAV", "PM10_T_mean vs PM10TCON_mean",
                "PM10_GBV vs PM10_GAV", "PM10_GBV vs PM10TCON_mean", "PM10_GAV vs PM10TCON_mean"]
x_labels = ["PM10_T_mean", "PM10_T_mean", "PM10_T_mean", "PM10_GBV", "PM10_GBV", "PM10_GAV"]
y_labels = ["PM10_GBV", "PM10_GAV", "PM10TCON_mean", "PM10_GAV", "PM10TCON_mean", "PM10TCON_mean"]
pearson = ["0.89", "0.90", "1.00", "0.95", "0.90", "0.91"]
mae = ["14.60", "12.55", "11.50", "12.56", "12.84", "17.05"]
rmse = ["21.04", "15.64", "15.08", "16.11", "16.45", "19.43"]
diag_lo = [-8.0, -1.5, -4.4, -3.2, -8.0, -1.3]
diag_hi = [259.0, 169.0, 234.4, 231.4, 259.0, 199.2]

n = min(len(T_mean), len(GBV), len(TCON))
n2 = min(len(P2_T_mean), len(P2_GAV))
n4 = min(len(P4_GBV), len(P4_GAV))
n6 = min(len(P6_GAV), len(P6_TCON))
xs = [T_mean[:n], P2_T_mean[:n2], T_mean[:n], P4_GBV[:n4], GBV[:n], P6_GAV[:n6]]
ys = [GBV[:n], P2_GAV[:n2], TCON[:n], P4_GAV[:n4], TCON[:n], P6_TCON[:n6]]

# ---------------- layout geometry (pixels) ----------------
boxes = [(51, 487, 75, 406), (536, 971, 75, 406), (51, 487, 464, 796),
         (536, 971, 464, 796), (51, 487, 854, 1186), (536, 971, 854, 1186)]
ranges = [(-21.4, 273.0), (-10.3, 178.2), (-16.6, 247.7), (-15.3, 244.0), (-21.5, 273.0), (-11.9, 209.8)]
dticks = [50, 25, 50, 50, 50, 25]

fig = go.Figure()
annotations = []
shapes = []
layout_axes = {}
legends = {}

for i in range(6):
    k = "" if i == 0 else str(i + 1)
    xa, ya = "x" + k, "y" + k
    lg = "legend" + k
    l, r, t, b = boxes[i]
    rng = ranges[i]

    fig.add_trace(go.Scatter(
        x=xs[i], y=ys[i], mode="markers", name=STATION, legend=lg,
        xaxis=xa, yaxis=ya, showlegend=True,
        marker=dict(symbol="x-thin", size=5.4, color=MARKER_COLOR,
                    line=dict(width=1.5, color=MARKER_COLOR)),
        hoverinfo="skip",
    ))
    fig.add_trace(go.Scatter(
        x=[diag_lo[i], diag_hi[i]], y=[diag_lo[i], diag_hi[i]], mode="lines",
        xaxis=xa, yaxis=ya, showlegend=False, hoverinfo="skip",
        line=dict(color="#808080", width=1.4, dash="5.5px,2.4px"),
    ))

    frame_col = "#333333" if i == 0 else "#ff0000"
    frame_w = 1 if i == 0 else 2
    common = dict(range=list(rng), autorange=False, showline=True, mirror=True,
                  linecolor=frame_col, linewidth=frame_w, showgrid=True,
                  gridcolor="#cfcfcf", gridwidth=1, zeroline=False,
                  ticks="outside", ticklen=3, tickwidth=1, tickcolor="#333333",
                  tickfont=dict(size=10, color="#222222", family=FONT),
                  ticklabeloverflow="allow", tick0=0, dtick=dticks[i])
    layout_axes["xaxis" + k] = dict(domain=[l / W, r / W], anchor=ya, ticklabelstandoff=-2, **common)
    layout_axes["yaxis" + k] = dict(domain=[1 - b / H, 1 - t / H], anchor=xa, **common)

    legends[lg] = dict(x=(l + 6) / W, y=1 - (t + 7) / H, xanchor="left", yanchor="top",
                       bgcolor="rgba(255,255,255,0.8)", bordercolor="#cccccc", borderwidth=1,
                       font=dict(size=12, color="#000000", family=FONT))

    cx = (l + r) / 2 / W
    annotations.append(dict(text="<b>" + panel_titles[i] + "</b>", x=cx, y=1 - (t - 11) / H,
                            xref="paper", yref="paper", showarrow=False, xanchor="center",
                            yanchor="middle", font=dict(size=16, color="#000000", family=FONT)))
    annotations.append(dict(text=x_labels[i], x=cx, y=1 - (b + 23) / H, xref="paper", yref="paper",
                            showarrow=False, xanchor="center", yanchor="middle",
                            font=dict(size=14, color="#000000", family=FONT)))
    annotations.append(dict(text=y_labels[i], x=(l - 33) / W, y=1 - (t + b) / 2 / H,
                            xref="paper", yref="paper", showarrow=False, textangle=-90,
                            xanchor="center", yanchor="middle",
                            font=dict(size=14, color="#000000", family=FONT)))
    shapes.append(dict(type="rect", xref=xa + " domain", yref=ya + " domain",
                       x0=0.681, x1=0.956, y0=0.039, y1=0.220, layer="above",
                       line=dict(color="#333333", width=1), fillcolor="white"))
    lines = [STATION + ":", "Pearson: " + pearson[i], "MAE: " + mae[i], "RMSE: " + rmse[i]]
    ypos = [0.193, 0.152, 0.111, 0.070]
    for txt, yy in zip(lines, ypos):
        annotations.append(dict(text=txt, x=0.947, y=yy, xref=xa + " domain", yref=ya + " domain",
                                showarrow=False, xanchor="right", yanchor="middle",
                                font=dict(size=12, color="#000000", family=FONT)))

annotations.append(dict(text="<b>Scatterplots of PM10 measures for Torino - Consolata</b>",
                        x=0.5, y=1 - 15 / H, xref="paper", yref="paper", showarrow=False,
                        xanchor="center", yanchor="middle",
                        font=dict(size=20, color="#000000", family=FONT)))

fig.update_layout(
    width=W, height=H, margin=dict(l=0, r=0, t=0, b=0),
    paper_bgcolor="white", plot_bgcolor="white",
    font=dict(family=FONT, color="#000000"),
    showlegend=True, annotations=annotations, shapes=shapes,
    **layout_axes, **legends,
)

fig.write_html(
    "out.html",
    config={"displayModeBar": False},
    post_script="document.body.style.margin='0px';document.body.style.padding='0px';"
                "document.documentElement.style.overflow='hidden';",
)
